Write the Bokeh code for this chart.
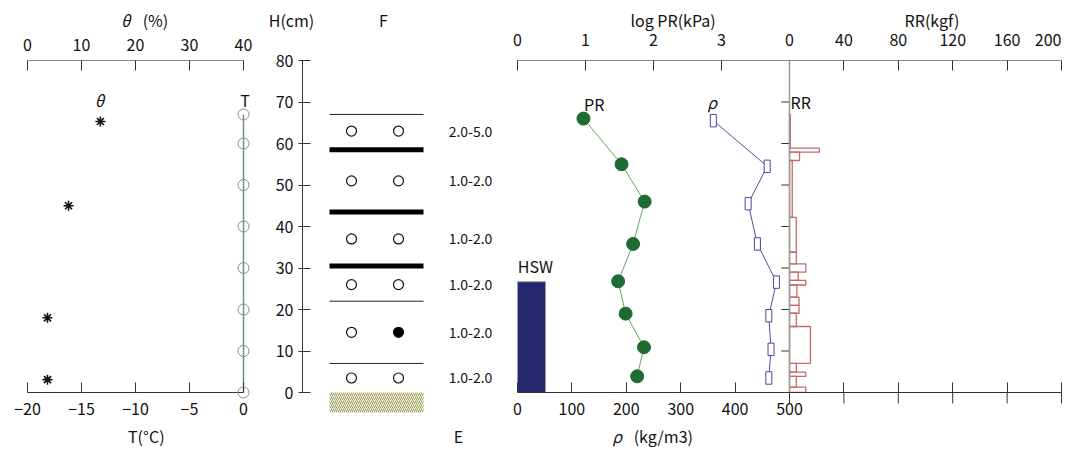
from bokeh.plotting import figure
from bokeh.models import Range1d, LinearAxis, FixedTicker, Span
from bokeh.layouts import row
from bokeh.embed import file_html
from bokeh.resources import INLINE
from bokeh.core.properties import value

FONT = "Noto Sans CJK JP"

# ---------------- data ----------------
# left panel: snow temperature and water content
temp_h = [67, 60, 50, 40, 30, 20, 10, 0]
temp_c = [0.0, 0.0, 0.0, 0.0, 0.0, 0.0, 0.0, 0.0]
theta_h = [65.3, 45.0, 18.0, 3.1]
theta_pct = [13.5, 7.6, 3.7, 3.7]
t_ticks = [-20, -15, -10, -5, 0]
theta_ticks = [0, 10, 20, 30, 40]

# middle panel: stratigraphy
h_ticks = [0, 10, 20, 30, 40, 50, 60, 70, 80]
layer_bounds = [67.0, 58.5, 43.5, 30.5, 22.0, 7.0]
bound_kind = ["thin", "thick", "thick", "thick", "thin", "thin"]
grain_h = [63.0, 51.0, 37.0, 26.0, 14.5, 3.5]
grain_filled_2 = [False, False, False, False, True, False]
grain_size = ["2.0-5.0", "1.0-2.0", "1.0-2.0", "1.0-2.0", "1.0-2.0", "1.0-2.0"]

# right panel: hardness, density, ram resistance
pr_h = [66.0, 55.0, 46.0, 35.8, 26.8, 19.0, 10.9, 3.9]
log_pr = [0.97, 1.53, 1.87, 1.70, 1.48, 1.59, 1.86, 1.76]
rho_h = [65.5, 54.5, 45.5, 35.8, 26.6, 18.5, 10.4, 3.5]
rho = [360, 459, 424, 441, 476, 462, 466, 462]
hsw = 26.7
pr_ticks = [0, 1, 2, 3]
rho_ticks = [0, 100, 200, 300, 400, 500]
rr_ticks = [0, 40, 80, 120, 160, 200]
rr_top = [67.0, 58.9, 57.9, 55.9, 42.2, 33.8, 31.0, 29.0, 27.0, 25.9, 23.0, 21.0, 19.1, 15.9, 7.0, 4.9, 3.9, 1.3]
rr_bottom = [58.9, 57.9, 55.9, 42.2, 33.8, 31.0, 29.0, 27.0, 25.9, 23.0, 21.0, 19.1, 15.9, 7.0, 4.9, 3.9, 1.3, 0.0]
rr_kgf = [0.6, 22.0, 7.4, 2.0, 5.0, 5.0, 12.0, 6.4, 12.0, 5.4, 7.0, 7.0, 5.0, 15.4, 5.0, 12.0, 5.0, 12.0]

# ---------------- helpers ----------------
HEIGHT = 449
TOP, BOT = 60, 57
H_MAX = 80.0
PX_CM = (HEIGHT - TOP - BOT) / H_MAX   # 4.15 px per cm
TICK_FS = "16px"


def base_fig(width, xr, left, right):
    p = figure(width=width, height=HEIGHT, x_range=xr, y_range=Range1d(0, H_MAX),
               output_backend="svg", toolbar_location=None,
               x_axis_location=None, y_axis_location=None,
               min_border_left=left, min_border_right=right,
               min_border_top=TOP, min_border_bottom=BOT)
    p.outline_line_color = None
    p.grid.visible = False
    p.background_fill_color = "white"
    p.border_fill_color = "white"
    return p


def style_axis(ax, line_color, tin, tout, standoff):
    ax.axis_line_color = line_color
    ax.axis_line_width = 1
    ax.major_tick_line_color = "#333333"
    ax.major_tick_in = tin
    ax.major_tick_out = tout
    ax.minor_tick_line_color = None
    ax.major_label_text_font = FONT
    ax.major_label_text_font_size = TICK_FS
    ax.major_label_text_color = "#111111"
    ax.major_label_standoff = standoff


def lab(p, text, x, y, size="16px", align="center", style="normal", xr="default"):
    p.text(x=[x], y=[y], text=[text], x_range_name=xr, level="overlay",
           text_font=value(FONT), text_font_size=size, text_font_style=style,
           text_align=align, text_baseline="middle", text_color="#111111")


TITLE_Y = (392 - 19) / PX_CM         # above the top axes
XLAB_Y = -(435 - 392) / PX_CM        # below the bottom axes

# ---------------- left panel ----------------
pa = base_fig(262, Range1d(-20.648, 0.648), 20, 12)
pa.extra_x_ranges = {"theta": Range1d(-1.296, 41.296)}

ax_top = LinearAxis(x_range_name="theta", bounds=(0, 40), ticker=FixedTicker(ticks=theta_ticks))
style_axis(ax_top, "#8a8a8a", 10, 0, 10)
pa.add_layout(ax_top, "above")
ax_bot = LinearAxis(bounds=(-20, 0), ticker=FixedTicker(ticks=t_ticks),
                    major_label_overrides={t: str(t).replace("-", "\u2212") for t in t_ticks})
style_axis(ax_bot, "#333333", 10, 0, 10)
pa.add_layout(ax_bot, "below")

pa.line(temp_c, temp_h, line_color="#6f946f", line_width=1.5)
pa.scatter(temp_c, temp_h, marker="circle", size=11, fill_color=None,
           line_color="#8a8a8a", line_width=1, level="overlay")
pa.scatter(theta_pct, theta_h, x_range_name="theta", marker="asterisk", size=10,
           line_color="#111111", line_width=1.6)

lab(pa, "θ", 18.2, TITLE_Y, style="italic", xr="theta")
lab(pa, "(%)", 23.7, TITLE_Y, xr="theta")
lab(pa, "T(°C)", -9.0, XLAB_Y)
lab(pa, "θ", 13.3, 70.4, style="italic", xr="theta")
lab(pa, "T", 0.15, 70.4)

# ---------------- middle panel ----------------
pb = base_fig(243, Range1d(0, 203), 40, 0)
ax_h = LinearAxis(bounds=(0, 80), ticker=FixedTicker(ticks=h_ticks))
style_axis(ax_h, "#333333", 8, 4, 5)
pb.add_layout(ax_h, "left")

LX0, LX1, G1, G2, GS = 27, 121, 49, 96, 168
GROUND = 20 / PX_CM
pb.quad(left=LX0, right=LX1, top=0, bottom=-GROUND, fill_color="#f4f4e8", line_color=None,
        hatch_pattern="/", hatch_color="#9a9a55", hatch_scale=4, hatch_weight=1,
        level="overlay")
thin = [b for b, k in zip(layer_bounds, bound_kind) if k == "thin"]
thick = [b for b, k in zip(layer_bounds, bound_kind) if k == "thick"]
pb.segment(x0=LX0, x1=LX1, y0=thin, y1=thin, line_color="#222222", line_width=1)
pb.segment(x0=LX0, x1=LX1, y0=thick, y1=thick, line_color="black", line_width=5)
pb.scatter([G1] * len(grain_h), grain_h, marker="circle", size=10,
           fill_color="white", line_color="#111111", line_width=1.2)
pb.scatter([G2] * len(grain_h), grain_h, marker="circle", size=10,
           fill_color=["black" if f else "white" for f in grain_filled_2],
           line_color="#111111", line_width=1.2)
pb.text(x=[GS] * len(grain_h), y=grain_h, text=grain_size, text_align="center",
        text_baseline="middle", text_font=value(FONT), text_font_size="14px",
        text_color="#111111")
lab(pb, "H(cm)", -11, TITLE_Y)
lab(pb, "F", 81, TITLE_Y)
lab(pb, "E", 156, XLAB_Y)

# ---------------- right panel ----------------
# main range in density units; log PR 0..4 shares 0..500, RR 0..200 maps to 500..1000
D0, D1 = -9.19, 1003.68
PR_SCALE = 125.0
RR_OFF, RR_SCALE = 500.0, 2.5
pc = base_fig(564, Range1d(D0, D1), 7, 6)
pc.extra_x_ranges = {
    "pr": Range1d(D0 / PR_SCALE, D1 / PR_SCALE),
    "rr": Range1d((D0 - RR_OFF) / RR_SCALE, (D1 - RR_OFF) / RR_SCALE),
}
top_pos = [v * PR_SCALE for v in pr_ticks] + [RR_OFF + v * RR_SCALE for v in rr_ticks]
top_txt = [str(v) for v in pr_ticks] + [str(v) for v in rr_ticks]
top_txt[-1] = top_txt[-1] + "\u2002"   # keep last label inside the canvas
ax_top2 = LinearAxis(bounds=(0, 1000), ticker=FixedTicker(ticks=top_pos),
                     major_label_overrides={int(k): t for k, t in zip(top_pos, top_txt)})
style_axis(ax_top2, "#8a8a8a", 10, 0, 10)
pc.add_layout(ax_top2, "above")
bot_pos = rho_ticks + [RR_OFF + v * RR_SCALE for v in rr_ticks[1:]]
bot_txt = {int(k): (str(int(k)) if k <= 500 else "") for k in bot_pos}
ax_bot2 = LinearAxis(bounds=(0, 1000), ticker=FixedTicker(ticks=bot_pos),
                     major_label_overrides=bot_txt)
style_axis(ax_bot2, "#333333", 10, 0, 10)
pc.add_layout(ax_bot2, "below")
# RR ticks on the lower axis cross it
rr_low = [RR_OFF + v * RR_SCALE for v in rr_ticks]
pc.segment(x0=rr_low, x1=rr_low, y0=0, y1=-11 / PX_CM, line_color="#333333",
           line_width=1, level="overlay")

# RR zero axis
pc.add_layout(Span(location=RR_OFF, dimension="height", line_color="#9a9a9a", line_width=1.5))
rr_axis_ticks = [10, 20, 30, 40, 50, 60, 70]
pc.segment(x0=RR_OFF - 15, x1=RR_OFF, y0=rr_axis_ticks, y1=rr_axis_ticks,
           line_color="#333333", line_width=1)

HSW_W = 51.5
pc.quad(left=0, right=HSW_W, bottom=0, top=hsw, fill_color="#27286e",
        line_color="#9a9aa8", line_width=1)

pc.line(log_pr, pr_h, x_range_name="pr", line_color="#62a862", line_width=1)
pc.scatter(log_pr, pr_h, x_range_name="pr", marker="circle", size=13,
           fill_color="#1f6b33", line_color="#1f6b33")

pc.line(rho, rho_h, line_color="#50509e", line_width=1)
pc.rect(x=rho, y=rho_h, width=6, width_units="screen", height=3.0,
        fill_color="white", line_color="#4646a8", line_width=1)

pc.quad(left=[0] * len(rr_kgf), right=rr_kgf, top=rr_top, bottom=rr_bottom,
        x_range_name="rr", fill_color=None, line_color="#c46a6a", line_width=1.3)

lab(pc, "log PR(kPa)", 286, TITLE_Y)
lab(pc, "RR(kgf)", 762, TITLE_Y)
lab(pc, "ρ", 183, XLAB_Y, style="italic")
lab(pc, "(kg/m3)", 268, XLAB_Y)
lab(pc, "PR", 141, 69.6)
lab(pc, "ρ", 358, 69.9, style="italic")
lab(pc, "RR", 502, 69.9, align="left")
lab(pc, "HSW", 33, 30.4)

layout = row(pa, pb, pc, spacing=0)
open("out.html", "w").write(file_html(layout, INLINE))
